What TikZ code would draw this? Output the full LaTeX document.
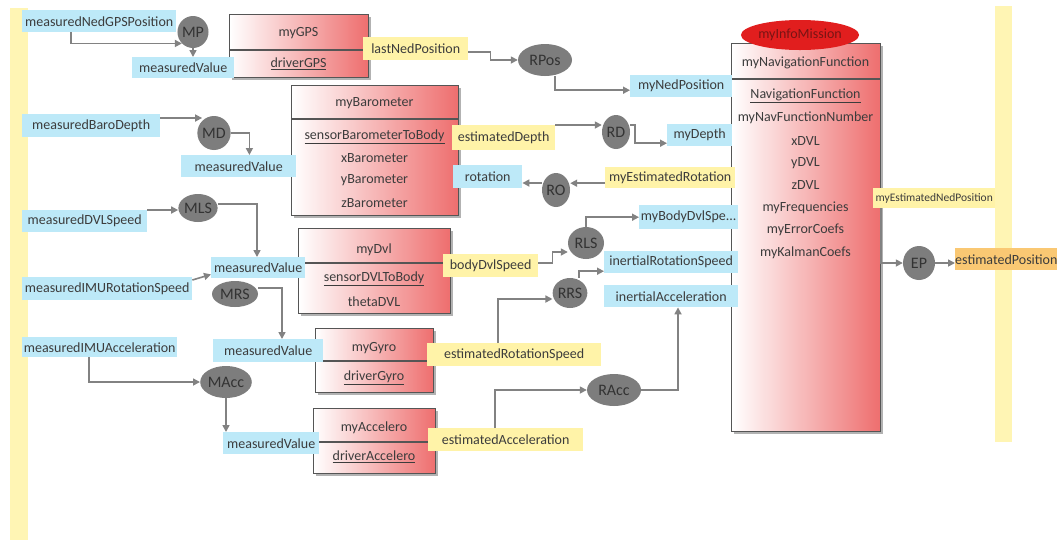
\documentclass[tikz,border=0pt]{standalone}
\usepackage{fontspec}
\setmainfont{Carlito}
\usetikzlibrary{arrows.meta,shapes.geometric,shadows}
\definecolor{lblblue}{RGB}{189,233,248}
\definecolor{lblyel}{RGB}{255,243,168}
\definecolor{baryel}{RGB}{255,245,180}
\definecolor{orlbl}{RGB}{250,200,115}
\definecolor{clsred}{RGB}{238,110,110}
\definecolor{clsborder}{RGB}{85,85,85}
\definecolor{ellgray}{RGB}{125,125,125}
\definecolor{txtc}{RGB}{60,60,60}
\definecolor{arrgray}{RGB}{130,130,130}
\definecolor{infored}{RGB}{225,30,30}
\definecolor{infotxt}{RGB}{120,20,20}
\begin{document}
\begin{tikzpicture}[x=1pt,y=-1pt,
  lbl/.style={inner sep=0pt, anchor=north west, font=\fontsize{14}{16}\selectfont, text=txtc},
  bluelbl/.style={lbl, fill=lblblue},
  yellbl/.style={lbl, fill=lblyel},
  orglbl/.style={lbl, fill=orlbl},
  clsbox/.style={draw=clsborder, line width=1.2pt, left color=white, right color=clsred,
    anchor=north west, inner sep=0pt,
    drop shadow={shadow xshift=2pt, shadow yshift=-2pt, fill=black!60, opacity=0.5}},
  clstxt/.style={inner sep=0pt, font=\fontsize{14}{16}\selectfont, text=txtc},
  divider/.style={draw=clsborder, line width=1.2pt},
  gell/.style={ellipse, fill=ellgray, inner sep=0pt, font=\fontsize{16}{16}\selectfont, text=black!80},
  arr/.style={draw=arrgray, line width=1.6pt, -{Triangle[length=7pt,width=7pt]}},
  bar/.style={fill=baryel, draw=none}
]
\useasboundingbox (0,0) rectangle (1057,542);
\fill[white] (0,0) rectangle (1057,542);

% swimlane bars
\fill[bar] (10,8) rectangle (28,540);
\fill[bar] (995,6) rectangle (1012,442);

% class boxes
\node[clsbox, minimum width=139pt, minimum height=63pt] (cGPS) at (229,14) {};
\draw[divider] (cGPS.west |- 0,50) -- (cGPS.east |- 0,50);
\node[clstxt] (tGPSa) at (298.5,33) {myGPS};
\node[clstxt] (tGPSb) at (298.5,64) {\underline{driverGPS}};

\node[clsbox, minimum width=167pt, minimum height=130pt] (cBaro) at (291,85) {};
\draw[divider] (cBaro.west |- 0,119) -- (cBaro.east |- 0,119);
\node[clstxt] (tBa) at (374.5,103) {myBarometer};
\node[clstxt] (tBb) at (374.5,137) {\underline{sensorBarometerToBody}};
\node[clstxt] (tBc) at (374.5,158) {xBarometer};
\node[clstxt] (tBd) at (374.5,180) {yBarometer};
\node[clstxt] (tBe) at (374.5,203) {zBarometer};

\node[clsbox, minimum width=152pt, minimum height=85pt] (cDvl) at (298,228) {};
\draw[divider] (cDvl.west |- 0,263) -- (cDvl.east |- 0,263);
\node[clstxt] (tDa) at (374,250) {myDvl};
\node[clstxt] (tDb) at (374,279) {\underline{sensorDVLToBody}};
\node[clstxt] (tDc) at (374,302) {thetaDVL};

\node[clsbox, minimum width=118pt, minimum height=64pt] (cGyro) at (315,328) {};
\draw[divider] (cGyro.west |- 0,361) -- (cGyro.east |- 0,361);
\node[clstxt] (tGa) at (374,348) {myGyro};
\node[clstxt] (tGb) at (374,378) {\underline{driverGyro}};

\node[clsbox, minimum width=122pt, minimum height=65pt] (cAcc) at (313,408) {};
\draw[divider] (cAcc.west |- 0,442) -- (cAcc.east |- 0,442);
\node[clstxt] (tAa) at (374,428) {myAccelero};
\node[clstxt] (tAb) at (374,457) {\underline{driverAccelero}};

\node[clsbox, minimum width=149pt, minimum height=388pt] (cNav) at (731,43) {};
\draw[divider] (cNav.west |- 0,79) -- (cNav.east |- 0,79);
\node[clstxt] (tNa) at (805.5,63) {myNavigationFunction};
\node[clstxt] (tNb) at (805.5,96) {\underline{NavigationFunction}};
\node[clstxt] (tNc) at (805.5,118) {myNavFunctionNumber};
\node[clstxt] (tNd) at (805.5,141) {xDVL};
\node[clstxt] (tNe) at (805.5,163) {yDVL};
\node[clstxt] (tNf) at (805.5,185) {zDVL};
\node[clstxt] (tNg) at (805.5,208) {myFrequencies};
\node[clstxt] (tNh) at (805.5,230) {myErrorCoefs};
\node[clstxt] (tNi) at (805.5,253) {myKalmanCoefs};

\node[ellipse, fill=infored, inner sep=0pt, minimum width=100pt, minimum height=30pt,
  font=\fontsize{14}{14}\selectfont, text=infotxt] (eInfo) at (800,35) {myInfoMission};

% blue labels
\node[bluelbl, minimum width=154pt, minimum height=22pt] (bNGPS) at (22,10) {measuredNedGPSPosition};
\node[bluelbl, minimum width=102pt, minimum height=21pt] (bMVgps) at (132,57) {measuredValue};
\node[bluelbl, minimum width=138pt, minimum height=23pt] (bBaro) at (22,114) {measuredBaroDepth};
\node[bluelbl, minimum width=115pt, minimum height=22pt] (bMVbaro) at (181,155) {measuredValue};
\node[bluelbl, minimum width=125pt, minimum height=22pt] (bDVL) at (22,210) {measuredDVLSpeed};
\node[bluelbl, minimum width=94pt, minimum height=21pt] (bMVdvl) at (211,257) {measuredValue};
\node[bluelbl, minimum width=170pt, minimum height=23pt] (bIMURS) at (22,277) {measuredIMURotationSpeed};
\node[bluelbl, minimum width=155pt, minimum height=20pt] (bIMUA) at (22,337) {measuredIMUAcceleration};
\node[bluelbl, minimum width=110pt, minimum height=23pt] (bMVgyro) at (213,339) {measuredValue};
\node[bluelbl, minimum width=96pt, minimum height=22pt] (bMVacc) at (223,432) {measuredValue};
\node[bluelbl, minimum width=102pt, minimum height=22pt] (bNedPos) at (630,75) {myNedPosition};
\node[bluelbl, minimum width=65pt, minimum height=22pt] (bMyDepth) at (667,124) {myDepth};
\node[bluelbl, minimum width=69pt, minimum height=23pt] (bRot) at (453,165) {rotation};
\node[bluelbl, minimum width=99pt, minimum height=24pt] (bBodySpe) at (639,205) {myBodyDvlSpe...};
\node[bluelbl, minimum width=134pt, minimum height=22pt] (bIRS) at (604,251) {inertialRotationSpeed};
\node[bluelbl, minimum width=134pt, minimum height=22pt] (bIAcc) at (604,285) {inertialAcceleration};

% yellow labels
\node[yellbl, minimum width=105pt, minimum height=23pt] (yLast) at (363,37) {lastNedPosition};
\node[yellbl, minimum width=103pt, minimum height=25pt] (yDepth) at (452,125) {estimatedDepth};
\node[yellbl, minimum width=130pt, minimum height=21pt] (yEstRot) at (605,167) {myEstimatedRotation};
\node[yellbl, minimum width=95pt, minimum height=23pt] (yBody) at (443,254) {bodyDvlSpeed};
\node[yellbl, minimum width=174pt, minimum height=23pt] (yRotSpd) at (427,343) {estimatedRotationSpeed};
\node[yellbl, minimum width=155pt, minimum height=23pt] (yAcc) at (428,428) {estimatedAcceleration};
\node[yellbl, minimum width=122pt, minimum height=20pt, font=\fontsize{11.5}{13}\selectfont] (yNedEst) at (873,188) {myEstimatedNedPosition};
\node[orglbl, minimum width=102pt, minimum height=22pt] (oEstPos) at (955,248) {estimatedPosition};

% gray ellipses
\node[gell, minimum width=28pt, minimum height=32pt] (eMP) at (193,32) {MP};
\node[gell, minimum width=28pt, minimum height=34pt] (eMD) at (214,133) {MD};
\node[gell, minimum width=32pt, minimum height=28pt] (eMLS) at (198,208) {MLS};
\node[gell, minimum width=46pt, minimum height=26pt] (eMRS) at (235,294) {MRS};
\node[gell, minimum width=46pt, minimum height=32pt] (eMAcc) at (226,382) {MAcc};
\node[gell, minimum width=54pt, minimum height=32pt] (eRPos) at (545,60) {RPos};
\node[gell, minimum width=28pt, minimum height=34pt] (eRD) at (616,132) {RD};
\node[gell, minimum width=28pt, minimum height=34pt] (eRO) at (556,190) {RO};
\node[gell, minimum width=36pt, minimum height=32pt] (eRLS) at (586,243) {RLS};
\node[gell, minimum width=32pt, minimum height=30pt] (eRRS) at (570,293) {RRS};
\node[gell, minimum width=54pt, minimum height=32pt] (eRAcc) at (614,390) {RAcc};
\node[gell, minimum width=32pt, minimum height=34pt] (eEP) at (919,263) {EP};

% connectors
\draw[arr] ([xshift=49pt]bNGPS.south west) |- (eMP.south west);
\draw[arr] (eMP.south) -- (eMP.south |- bMVgps.north);
\draw[arr] ([yshift=-4pt]bBaro.north east) -- ([yshift=-4pt]bBaro.north east -| eMD.north west);
\draw[arr] (eMD.east) -| ([xshift=-47pt]bMVbaro.north east);
\draw[arr] (bDVL.north east) -- (bDVL.north east -| eMLS.west);
\draw[arr] ([yshift=4pt]eMLS.east) -| ([xshift=46pt]bMVdvl.north west);
\draw[arr] ([yshift=-3pt]bIMURS.north east) -- ([yshift=4pt]bMVdvl.south west);
\draw[arr] ([yshift=6pt]eMRS.east) -| ([xshift=69pt]bMVgyro.north west);
\draw[arr] ([xshift=67pt]bIMUA.south west) |- (eMAcc.west);
\draw[arr] (eMAcc.south) -- (eMAcc.south |- bMVacc.north);
\draw[arr] ([yshift=-3.5pt]yLast.east) -- ++(22,0) |- (eRPos.west);
\draw[arr] ([xshift=10pt]eRPos.south) |- ([yshift=-4pt]bNedPos.west);
\draw[arr] (yDepth.north east) -- (yDepth.north east -| eRD.west);
\draw[arr] ([yshift=7pt]eRD.east) -- ++(5,0) |- ([yshift=-8pt]bMyDepth.west);
\draw[arr] ([yshift=-5.5pt]yEstRot.west) -- ([yshift=-5.5pt]yEstRot.west -| eRO.east);
\draw[arr] ([yshift=7pt]eRO.west) -- ([yshift=7pt]eRO.west -| bRot.east);
\draw[arr] ([yshift=2.5pt]yBody.east) -- ++(14,0) |- ([yshift=-9pt]eRLS.west);
\draw[arr] (eRLS.north) |- (bBodySpe.west);
\draw[arr] ([xshift=9pt]eRRS.north) |- ([yshift=-9pt]bIRS.west);
\draw[arr] ([xshift=71pt]yRotSpd.north west) |- ([yshift=-6pt]eRRS.west);
\draw[arr] ([xshift=67pt]yAcc.north west) |- (eRAcc.west);
\draw[arr] (eRAcc.east) -| ([xshift=74pt]bIAcc.south west);
\draw[arr] ([xshift=8pt]yNedEst.south west) |- (eEP.west);
\draw[arr] (eEP.east) -- (eEP.east -| oEstPos.west);
\end{tikzpicture}
\end{document}
